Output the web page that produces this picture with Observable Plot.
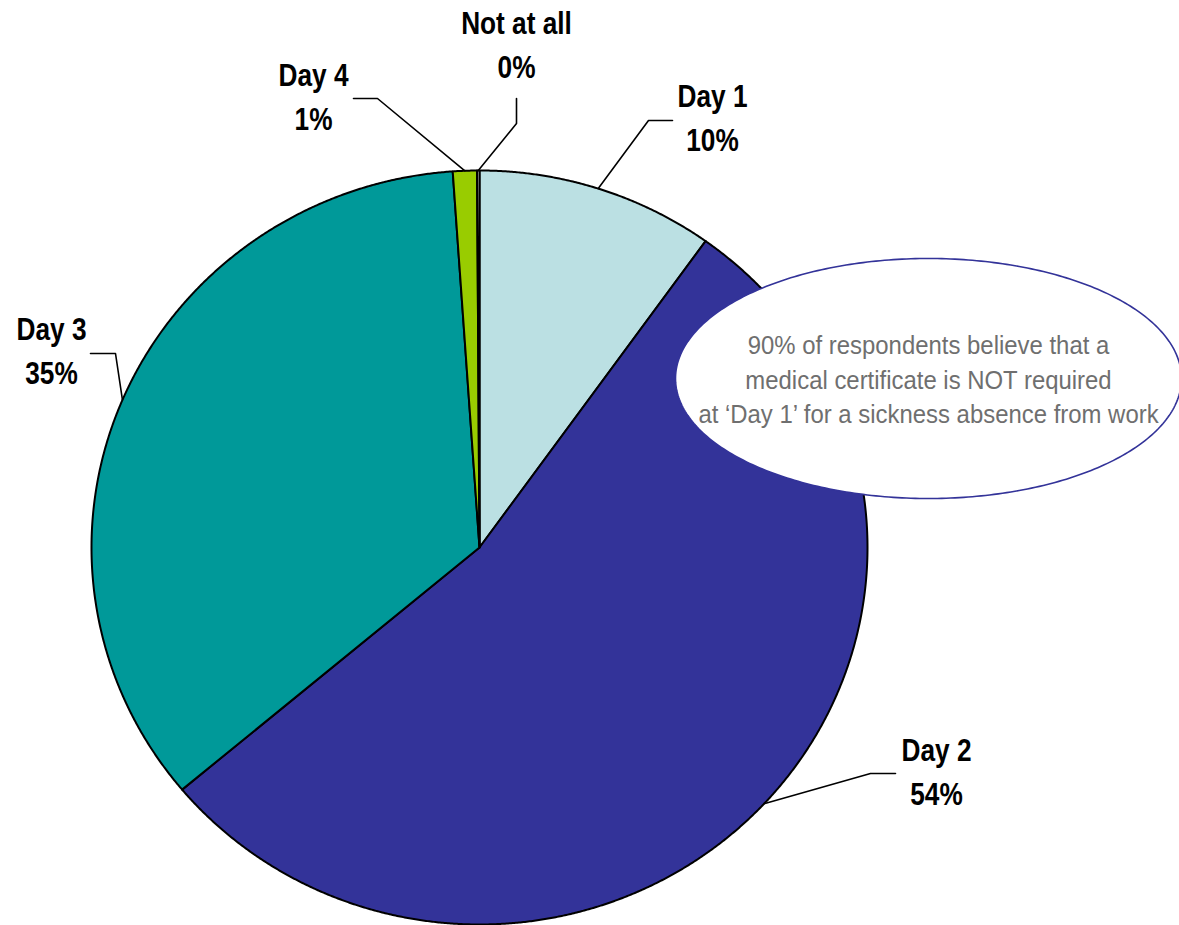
<!DOCTYPE html>
<html>
<head>
<meta charset="utf-8">
<script src="https://cdn.jsdelivr.net/npm/d3@7"></script>
<script src="https://cdn.jsdelivr.net/npm/@observablehq/plot@0.6"></script>
<style>
  html, body { margin: 0; padding: 0; background: #ffffff; }
  #chart svg { display: block; }
</style>
</head>
<body>
<div id="chart"></div>
<script>
// ---- data ----
const categories = ["Day 1", "Day 2", "Day 3", "Day 4", "Not at all"];
const values = [9.9, 54.0, 35.0, 1.0, 0.1];
const valueLabels = ["10%", "54%", "35%", "1%", "0%"];
const calloutLines = [
  "90% of respondents believe that a",
  "medical certificate is NOT required",
  "at \u2018Day 1\u2019 for a sickness absence from work"
];

// ---- styles / layout ----
const palette = ["#BBE0E3", "#333399", "#009999", "#99CC00", "#FFFFFF"];
const W = 1179, H = 925;
const pie = {cx: 479, cy: 547, rx: 388, ry: 377};
const callout = {cx: 928, cy: 378, rx: 253, ry: 120, tx: 928, ty: 377};
// elbow / end of leader lines and label centres (pixels)
const labelLayout = [
  {elbow: [648, 120], end: [672, 120], label: [712, 114]},
  {elbow: [870, 773], end: [895, 773], label: [936, 768]},
  {elbow: [115, 353], end: [90, 353],  label: [51, 347]},
  {elbow: [377, 98],  end: [353, 98],  label: [313, 93]},
  {elbow: [516, 123], end: [516, 98],  label: [516, 41]}
];
const FONT = "'Liberation Sans Narrow', 'Arial Narrow', 'Liberation Sans', Arial, sans-serif";
const LABEL_SCALE_X = 0.82, CALLOUT_SCALE_X = 0.92;

// ---- geometry from data ----
const total = d3.sum(values);
const pt = a => ({x: pie.cx + pie.rx * Math.sin(a), y: pie.cy - pie.ry * Math.cos(a)});
let acc = 0;
const slices = values.map((v, i) => {
  const a0 = acc / total * 2 * Math.PI;
  acc += v;
  const a1 = acc / total * 2 * Math.PI;
  const n = Math.max(2, Math.ceil((a1 - a0) / 0.004));
  const pts = [{x: pie.cx, y: pie.cy}];
  for (let j = 0; j <= n; j++) pts.push(pt(a0 + (a1 - a0) * j / n));
  pts.push({x: pie.cx, y: pie.cy});
  return {i, a0, a1, mid: (a0 + a1) / 2, pts};
});

const leaders = slices.flatMap(s => {
  const L = labelLayout[s.i];
  const p = pt(s.mid);
  return [
    {k: s.i, x: p.x, y: p.y},
    {k: s.i, x: L.elbow[0], y: L.elbow[1]},
    {k: s.i, x: L.end[0], y: L.end[1]}
  ];
});

const labels = categories.map((c, i) => ({
  x: labelLayout[i].label[0], y: labelLayout[i].label[1],
  text: c + "\n" + valueLabels[i]
}));

const ellipsePts = d3.range(0, 361).map(d => {
  const a = d / 180 * Math.PI;
  return {x: callout.cx + callout.rx * Math.cos(a), y: callout.cy + callout.ry * Math.sin(a)};
});

const chart = Plot.plot({
  width: W,
  height: H,
  margin: 0,
  x: {domain: [0, W], range: [0, W], axis: null},
  y: {domain: [0, H], range: [0, H], axis: null},
  style: {background: "#ffffff"},
  marks: [
    ...slices.map(s => Plot.line(s.pts, {
      x: "x", y: "y", fill: palette[s.i], stroke: "#000000",
      strokeWidth: 2, strokeLinejoin: "round", curve: "linear"
    })),
    Plot.line(leaders, {x: "x", y: "y", z: "k", stroke: "#000000", strokeWidth: 1.6}),
    Plot.line(ellipsePts, {x: "x", y: "y", fill: "#ffffff", stroke: "#333399", strokeWidth: 1.6}),
    Plot.text([{x: callout.tx, y: callout.ty, text: calloutLines.join("\n")}], {
      x: "x", y: "y", text: "text", fill: "#6f6f6f", fontSize: 26,
      lineHeight: 1.34, fontFamily: FONT, textAnchor: "middle"
    }),
    Plot.text(labels, {
      x: "x", y: "y", text: "text", fill: "#000000", fontSize: 32,
      fontWeight: "bold", lineHeight: 1.375, fontFamily: FONT, textAnchor: "middle"
    })
  ]
});

// condense the text horizontally (no narrow font is installed)
chart.querySelectorAll("g[aria-label='text']").forEach((g, gi) => {
  const s = gi === 0 ? CALLOUT_SCALE_X : LABEL_SCALE_X;
  g.querySelectorAll(":scope > text").forEach(t => {
    const tr = t.getAttribute("transform");
    if (tr) {
      t.setAttribute("transform", tr + ` scale(${s},1)`);
    } else {
      const x = +t.getAttribute("x") || 0, y = +t.getAttribute("y") || 0;
      t.setAttribute("transform", `translate(${x},${y}) scale(${s},1) translate(${-x},${-y})`);
    }
  });
});
document.getElementById("chart").appendChild(chart);
</script>
</body>
</html>
